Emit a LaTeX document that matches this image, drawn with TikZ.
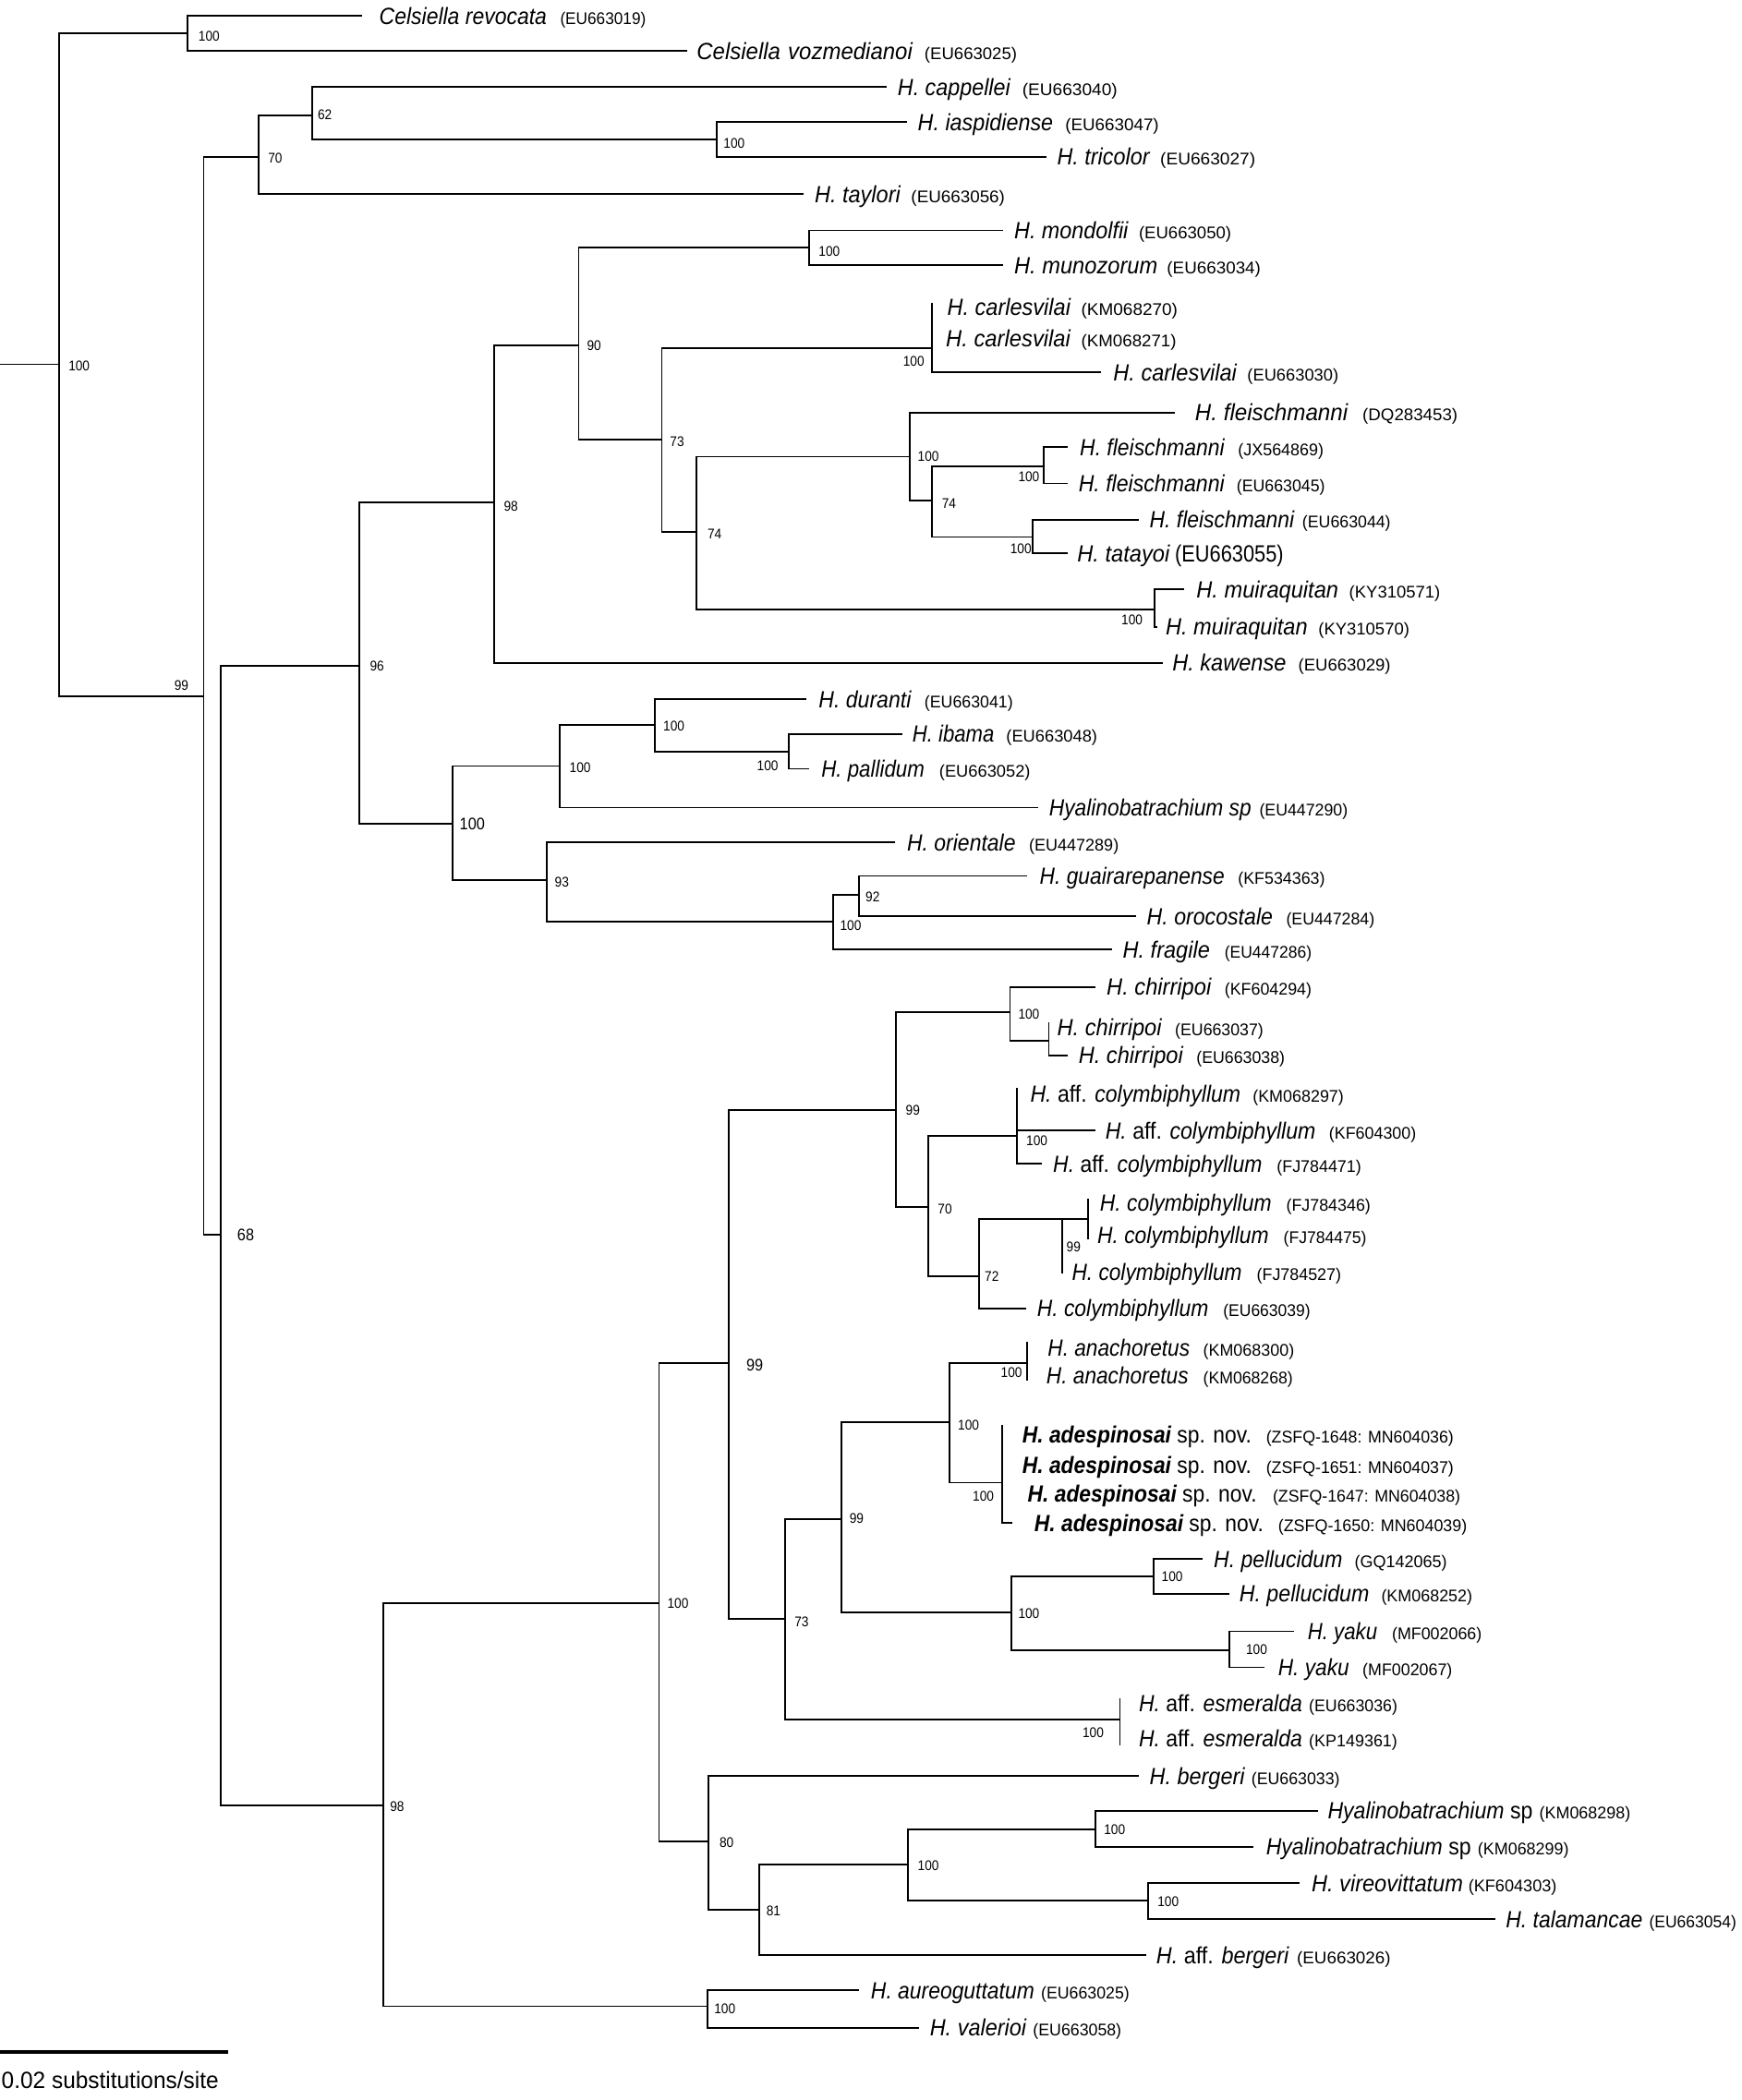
\documentclass[tikz,border=0pt]{standalone}
\usepackage{graphicx}
\usepackage{fontspec}
\setmainfont{Liberation Sans}
\newfontfamily\bsfam{Liberation Sans}[FakeStretch=0.9]
\newcommand\SP[1]{{\itshape #1}}
\newcommand\BS[1]{{\bfseries\itshape #1}}
\newcommand\AC[1]{{\fontsize{12.6}{14}\selectfont #1}}
\newcommand\fitto[2]{\resizebox{\dimexpr 1pt*(#1)\relax}{\height}{#2}}
\newcommand\leaf[4]{%
  \coordinate (#1) at (#3,#4);
  \draw[br] (#2) |- (#1);}
\newcommand\inode[4]{%
  \coordinate (#1) at (#3,#4);
  \draw[br] (#2) |- (#1);}
\newcommand\tlab[8]{%
  \node[lab] (#1t) at (#3,#2) {\fitto{#4-#3}{#7}\hspace{\dimexpr 1pt*(#5-#4)\relax}\fitto{#6-#5}{\AC{#8}}};}
\tikzset{
  br/.style={line width=1.25pt},
  lab/.style={anchor=west, inner sep=0pt, font=\fontsize{17.5}{20}\selectfont, text height=12.5pt, text depth=0pt},
  bsl/.style={anchor=west, inner sep=0pt, font=\bsfam\fontsize{10.5}{12}\selectfont},
  bsbig/.style={anchor=west, inner sep=0pt, font=\bsfam\fontsize{12.5}{14}\selectfont},
}
\begin{document}
\begin{tikzpicture}[x=1pt,y=-1pt]
\fill[white] (0,0) rectangle (1300,1568);
\useasboundingbox (0,0) rectangle (1300,1568);
% ---------- internal nodes ----------
\coordinate (r0) at (0,272);
\coordinate (R) at (44,272);
\draw[br] (r0) -- (R);
\inode{C}{R}{140}{25}
\inode{H}{R}{152}{520}
\inode{N70}{H}{193}{117}
\inode{N62}{N70}{233}{86}
\inode{Nia}{N62}{535}{104}
\inode{N68}{H}{165}{922}
\inode{N96}{N68}{268}{497}
\inode{N98a}{N96}{369}{375}
\inode{N90}{N98a}{432}{258}
\inode{Nmo}{N90}{604}{185}
\inode{N73a}{N90}{494}{328}
\inode{Nca}{N73a}{696}{260}
\inode{N74a}{N73a}{520}{397}
\inode{Nfl}{N74a}{679}{341}
\inode{N74b}{Nfl}{696}{374}
\inode{Nfj}{N74b}{779}{348}
\inode{Nta}{N74b}{771}{401}
\inode{Nmu}{N74a}{862}{455}
\inode{N100b}{N96}{338}{615}
\inode{N100c}{N100b}{418}{572}
\inode{N100d}{N100c}{489}{541}
\inode{Nib}{N100d}{589}{561}
\inode{N93}{N100b}{408}{657}
\inode{N100e}{N93}{622}{688}
\inode{N92}{N100e}{641}{668}
\inode{N98b}{N68}{286}{1348}
\inode{N100f}{N98b}{492}{1197}
\inode{N99a}{N100f}{544}{1018}
\inode{N99b}{N99a}{669}{829}
\inode{Nch}{N99b}{754}{756}
\inode{Nch2}{Nch}{783}{777}
\inode{N70b}{N99b}{693}{901}
\inode{Nac}{N70b}{759}{848}
\inode{N72}{N70b}{731}{953}
\inode{N99c}{N72}{793}{910}
\inode{N99d}{N99c}{812}{910}
\inode{N73b}{N99a}{586}{1209}
\inode{N99e}{N73b}{628}{1134}
\inode{N100g}{N99e}{709}{1062}
\inode{Nan}{N100g}{767}{1018}
\inode{Nad}{N100g}{748}{1107}
\inode{N100h}{N99e}{755}{1204}
\inode{Npe}{N100h}{861}{1177}
\inode{Nya}{N100h}{918}{1232}
\inode{Nes}{N73b}{836}{1284}
\inode{N80}{N100f}{529}{1375}
\inode{N81}{N80}{567}{1426}
\inode{N100i}{N81}{678}{1392}
\inode{Nsp}{N100i}{818}{1366}
\inode{Nvi}{N100i}{857}{1419}
\inode{N100j}{N98b}{528}{1498}
% ---------- leaves ----------
\leaf{l1}{C}{270}{12}   \tlab{l1}{12}{283}{408}{418}{482}{\SP{Celsiella revocata}}{(EU663019)}
\leaf{l2}{C}{513}{38}   \tlab{l2}{38}{520}{681}{690}{759}{\SP{Celsiella\hspace{6pt}vozmedianoi}}{(EU663025)}
\leaf{l3}{N62}{662}{65} \tlab{l3}{65}{670}{754}{763}{834}{\SP{H. cappellei}}{(EU663040)}
\leaf{l4}{Nia}{677}{91} \tlab{l4}{91}{685}{786}{795}{865}{\SP{H. iaspidiense}}{(EU663047)}
\leaf{l5}{Nia}{781}{117} \tlab{l5}{117}{789}{858}{866}{937}{\SP{H. tricolor}}{(EU663027)}
\leaf{l6}{N70}{600}{145} \tlab{l6}{145}{608}{672}{680}{750}{\SP{H. taylori}}{(EU663056)}
\leaf{l7}{Nmo}{749}{172} \tlab{l7}{172}{757}{842}{850}{919}{\SP{H. mondolfii}}{(EU663050)}
\leaf{l8}{Nmo}{749}{198} \tlab{l8}{198}{757}{864}{871}{941}{\SP{H. munozorum}}{(EU663034)}
\leaf{l9}{Nca}{696}{226} \tlab{l9}{229}{707}{799}{807}{879}{\SP{H. carlesvilai}}{(KM068270)}
\leaf{l10}{Nca}{696}{253} \tlab{l10}{253}{706}{799}{807}{878}{\SP{H. carlesvilai}}{(KM068271)}
\leaf{l11}{Nca}{822}{278} \tlab{l11}{278}{831}{923}{931}{999}{\SP{H. carlesvilai}}{(EU663030)}
\leaf{l12}{Nfl}{877}{308} \tlab{l12}{308}{892}{1006}{1017}{1088}{\SP{H. fleischmanni}}{(DQ283453)}
\leaf{l13}{Nfj}{797}{334} \tlab{l13}{334}{806}{914}{924}{988}{\SP{H. fleischmanni}}{(JX564869)}
\leaf{l14}{Nfj}{797}{361} \tlab{l14}{361}{805}{914}{923}{989}{\SP{H. fleischmanni}}{(EU663045)}
\leaf{l15}{Nta}{850}{388} \tlab{l15}{388}{858}{966}{972}{1038}{\SP{H. fleischmanni}}{(EU663044)}
\leaf{l16}{Nta}{797}{413} \tlab{l16}{413}{804}{873}{877}{958}{\SP{H. tatayoi}}{{\fontsize{17.5}{20}\selectfont (EU663055)}}
\leaf{l17}{Nmu}{884}{440} \tlab{l17}{440}{893}{999}{1007}{1075}{\SP{H. muiraquitan}}{(KY310571)}
\leaf{l18}{Nmu}{864}{468} \tlab{l18}{468}{870}{976}{984}{1052}{\SP{H. muiraquitan}}{(KY310570)}
\leaf{l19}{N98a}{868}{495} \tlab{l19}{495}{875}{960}{969}{1038}{\SP{H. kawense}}{(EU663029)}
\leaf{l20}{N100d}{602}{522} \tlab{l20}{522}{611}{680}{690}{756}{\SP{H. duranti}}{(EU663041)}
\leaf{l21}{Nib}{674}{548} \tlab{l21}{548}{681}{742}{751}{819}{\SP{H. ibama}}{(EU663048)}
\leaf{l22}{Nib}{604}{574} \tlab{l22}{574}{613}{690}{701}{769}{\SP{H. pallidum}}{(EU663052)}
\leaf{l23}{N100c}{775}{603} \tlab{l23}{603}{783}{934}{940}{1006}{\SP{Hyalinobatrachium sp}}{(EU447290)}
\leaf{l24}{N93}{668}{629} \tlab{l24}{629}{677}{758}{768}{835}{\SP{H. orientale}}{(EU447289)}
\leaf{l25}{N92}{767}{654} \tlab{l25}{654}{776}{914}{924}{989}{\SP{H. guairarepanense}}{(KF534363)}
\leaf{l26}{N92}{848}{684} \tlab{l26}{684}{856}{950}{960}{1026}{\SP{H. orocostale}}{(EU447284)}
\leaf{l27}{N100e}{830}{709} \tlab{l27}{709}{838}{903}{914}{979}{\SP{H. fragile}}{(EU447286)}
\leaf{l28}{Nch}{818}{737} \tlab{l28}{737}{826}{904}{914}{979}{\SP{H. chirripoi}}{(KF604294)}
\leaf{l29}{Nch2}{783}{763} \tlab{l29}{767}{789}{867}{877}{943}{\SP{H. chirripoi}}{(EU663037)}
\leaf{l30}{Nch2}{797}{788} \tlab{l30}{788}{805}{883}{893}{959}{\SP{H. chirripoi}}{(EU663038)}
\leaf{l31}{Nac}{759}{812} \tlab{l31}{817}{769}{926}{935}{1003}{\SP{H.} aff. \SP{colymbiphyllum}}{(KM068297)}
\leaf{l32}{Nac}{818}{844} \tlab{l32}{844}{825}{982}{992}{1057}{\SP{H.} aff. \SP{colymbiphyllum}}{(KF604300)}
\leaf{l33}{Nac}{778}{869} \tlab{l33}{869}{786}{942}{953}{1016}{\SP{H.} aff. \SP{colymbiphyllum}}{(FJ784471)}
\leaf{l34}{N99d}{812}{895} \tlab{l34}{898}{821}{949}{960}{1023}{\SP{H. colymbiphyllum}}{(FJ784346)}
\leaf{l35}{N99d}{812}{925} \tlab{l35}{922}{819}{947}{958}{1020}{\SP{H. colymbiphyllum}}{(FJ784475)}
\leaf{l36}{N99c}{793}{951} \tlab{l36}{950}{800}{927}{938}{1001}{\SP{H. colymbiphyllum}}{(FJ784527)}
\leaf{l37}{N72}{766}{977} \tlab{l37}{977}{774}{902}{913}{978}{\SP{H. colymbiphyllum}}{(EU663039)}
\leaf{l38}{Nan}{767}{1002} \tlab{l38}{1006}{782}{888}{898}{966}{\SP{H. anachoretus}}{(KM068300)}
\leaf{l39}{Nan}{767}{1031} \tlab{l39}{1027}{781}{887}{898}{965}{\SP{H. anachoretus}}{(KM068268)}
\leaf{l40}{Nad}{748}{1064} \tlab{l40}{1071}{763}{934}{945}{1085}{\BS{H. adespinosai} sp. nov.}{(ZSFQ-1648: MN604036)}
\leaf{l41}{Nad}{748}{1094} \tlab{l41}{1094}{763}{934}{945}{1085}{\BS{H. adespinosai} sp. nov.}{(ZSFQ-1651: MN604037)}
\leaf{l42}{Nad}{748}{1115} \tlab{l42}{1115}{767}{938}{950}{1090}{\BS{H. adespinosai} sp. nov.}{(ZSFQ-1647: MN604038)}
\leaf{l43}{Nad}{756}{1137} \tlab{l43}{1137}{772}{943}{954}{1095}{\BS{H. adespinosai} sp. nov.}{(ZSFQ-1650: MN604039)}
\leaf{l44}{Npe}{898}{1164} \tlab{l44}{1164}{906}{1002}{1011}{1080}{\SP{H. pellucidum}}{(GQ142065)}
\leaf{l45}{Npe}{918}{1190} \tlab{l45}{1190}{925}{1022}{1031}{1099}{\SP{H. pellucidum}}{(KM068252)}
\leaf{l46}{Nya}{966}{1218} \tlab{l46}{1218}{976}{1028}{1039}{1106}{\SP{H. yaku}}{(MF002066)}
\leaf{l47}{Nya}{944}{1245} \tlab{l47}{1245}{954}{1007}{1017}{1084}{\SP{H. yaku}}{(MF002067)}
\leaf{l48}{Nes}{836}{1268} \tlab{l48}{1272}{850}{972}{977}{1043}{\SP{H.} aff. \SP{esmeralda}}{(EU663036)}
\leaf{l49}{Nes}{836}{1303} \tlab{l49}{1298}{850}{972}{977}{1043}{\SP{H.} aff. \SP{esmeralda}}{(KP149361)}
\leaf{l50}{N80}{850}{1326} \tlab{l50}{1326}{858}{929}{934}{1000}{\SP{H. bergeri}}{(EU663033)}
\leaf{l51}{Nsp}{984}{1352} \tlab{l51}{1352}{991}{1144}{1149}{1217}{\SP{Hyalinobatrachium} sp}{(KM068298)}
\leaf{l52}{Nsp}{936}{1379} \tlab{l52}{1379}{945}{1098}{1103}{1171}{\SP{Hyalinobatrachium} sp}{(KM068299)}
\leaf{l53}{Nvi}{970}{1406} \tlab{l53}{1406}{979}{1092}{1096}{1162}{\SP{H. vireovittatum}}{(KF604303)}
\leaf{l54}{Nvi}{1116}{1433} \tlab{l54}{1433}{1124}{1226}{1231}{1296}{\SP{H. talamancae}}{(EU663054)}
\leaf{l55}{N81}{856}{1460} \tlab{l55}{1460}{863}{962}{968}{1038}{\SP{H.} aff. \SP{bergeri}}{(EU663026)}
\leaf{l56}{N100j}{641}{1486} \tlab{l56}{1486}{650}{772}{777}{843}{\SP{H. aureoguttatum}}{(EU663025)}
\leaf{l57}{N100j}{686}{1514} \tlab{l57}{1514}{694}{766}{771}{837}{\SP{H. valerioi}}{(EU663058)}
% ---------- support values ----------
\node[bsl] (bR) at (51,273) {100};
\node[bsl] (bC) at (148,27) {100};
\node[bsl] (b62) at (237,86) {62};
\node[bsl] (b70) at (200,118) {70};
\node[bsl] (bia) at (540,107) {100};
\node[bsl] (bH) at (130,512) {99};
\node[bsbig] (b68) at (177,922) {68};
\node[bsl] (b96) at (276,497) {96};
\node[bsl] (b98a) at (376,378) {98};
\node[bsl] (b90) at (438,258) {90};
\node[bsl] (bmo) at (611,188) {100};
\node[bsl] (b73a) at (500,330) {73};
\node[bsl] (bca) at (674,270) {100};
\node[bsl] (b74a) at (528,399) {74};
\node[bsl] (bfl) at (685,341) {100};
\node[bsl] (b74b) at (703,376) {74};
\node[bsl] (bfj) at (760,356) {100};
\node[bsl] (bta) at (754,410) {100};
\node[bsl] (bmu) at (837,463) {100};
\node[bsbig] (b100b) at (343,615) {100};
\node[bsl] (b100c) at (425,573) {100};
\node[bsl] (b100d) at (495,542) {100};
\node[bsl] (bib) at (565,572) {100};
\node[bsl] (b93) at (414,659) {93};
\node[bsl] (b100e) at (627,691) {100};
\node[bsl] (b92) at (646,670) {92};
\node[bsl] (b98b) at (291,1349) {98};
\node[bsl] (b100f) at (498,1197) {100};
\node[bsbig] (b99a) at (557,1019) {99};
\node[bsl] (b99b) at (676,829) {99};
\node[bsl] (bch) at (760,757) {100};
\node[bsl] (b70b) at (700,903) {70};
\node[bsl] (bac) at (766,852) {100};
\node[bsl] (b72) at (735,953) {72};
\node[bsl] (b99c) at (796,931) {99};
\node[bsl] (b73b) at (593,1211) {73};
\node[bsl] (b99e) at (634,1134) {99};
\node[bsl] (b100g) at (715,1064) {100};
\node[bsl] (ban) at (747,1025) {100};
\node[bsl] (bad) at (726,1117) {100};
\node[bsl] (b100h) at (760,1205) {100};
\node[bsl] (bpe) at (867,1177) {100};
\node[bsl] (bya) at (930,1232) {100};
\node[bsl] (bes) at (808,1294) {100};
\node[bsl] (b80) at (537,1376) {80};
\node[bsl] (b81) at (572,1427) {81};
\node[bsl] (b100i) at (685,1393) {100};
\node[bsl] (bsp) at (824,1366) {100};
\node[bsl] (bvi) at (864,1420) {100};
\node[bsl] (b100j) at (533,1500) {100};
% ---------- scale bar ----------
\coordinate (sb1) at (0,1532);
\coordinate (sb2) at (170,1532);
\draw[line width=2.4pt] (sb1) -- (sb2);
\node[lab] (sbt) at (1,1553) {\fitto{162}{0.02 substitutions/site}};
\end{tikzpicture}
\end{document}
